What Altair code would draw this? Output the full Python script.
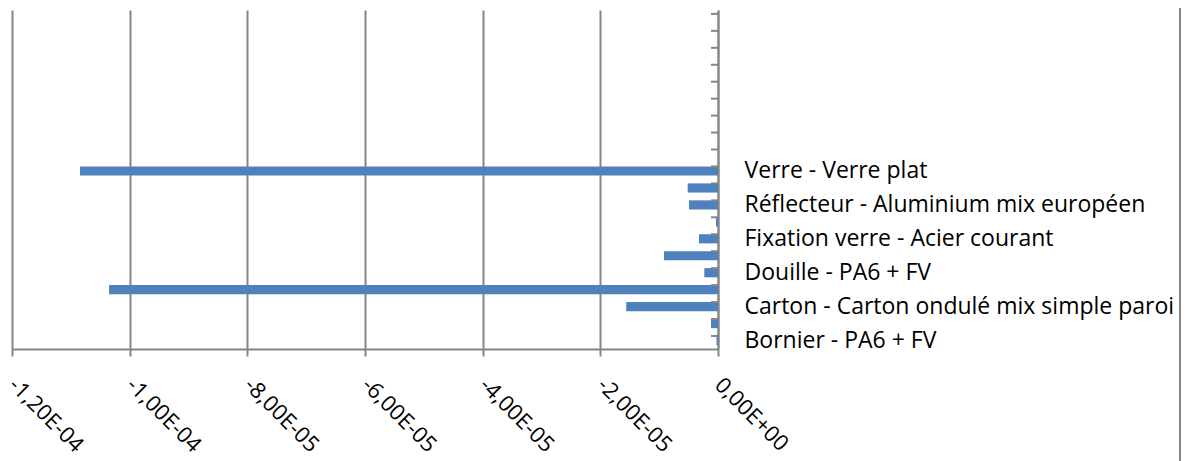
import json
import altair as alt
import pandas as pd

# Categories from bottom to top
categories = [
    "Bornier - PA6 + FV",
    "Câble - Cuivre",
    "Carton - Carton ondulé mix simple paroi",
    "Culot - Laiton",
    "Douille - PA6 + FV",
    "Fixation - Acier inoxydable",
    "Fixation verre - Acier courant",
    "Joint - Silicone",
    "Réflecteur - Aluminium mix européen",
    "Support - Acier courant",
    "Verre - Verre plat",
]
values = [-2.5e-7, -1.19e-6, -1.56e-5, -1.035e-4, -2.33e-6, -9.18e-6,
          -3.23e-6, -3.4e-7, -4.93e-6, -5.15e-6, -1.0844e-4]
empty_rows = ["_e%d" % i for i in range(1, 10)]
shown_labels = categories[0::2]

tick_values = [-1.2e-4, -1.0e-4, -8.0e-5, -6.0e-5, -4.0e-5, -2.0e-5, 0.0]
tick_labels = ["-1,20E-04", "-1,00E-04", "-8,00E-05", "-6,00E-05",
               "-4,00E-05", "-2,00E-05", "0,00E+00"]

all_rows = categories + empty_rows          # bottom to top
domain_top_down = list(reversed(all_rows))  # band scale order: top first

df = pd.DataFrame({"cat": all_rows,
                   "val": values + [None] * len(empty_rows)})

FONT = "Open Sans"
GRAY = "#868686"

y_scale = alt.Scale(domain=domain_top_down, paddingInner=0.46, paddingOuter=0.23)

x_label_expr = "%s[round(datum.value/2e-5)+6]" % json.dumps(tick_labels)
y_label_expr = "indexof(%s, datum.value) >= 0 ? datum.value : ''" % json.dumps(shown_labels)

bars = alt.Chart(df).mark_bar(color="#4F81BD").encode(
    x=alt.X("val:Q",
            scale=alt.Scale(domain=[-1.2e-4, 0], nice=False, zero=False),
            axis=alt.Axis(values=tick_values, labelExpr=x_label_expr,
                          title=None, grid=True, gridColor=GRAY, gridWidth=2,
                          domainColor=GRAY, domainWidth=2,
                          tickColor=GRAY, tickWidth=2, tickSize=7,
                          labelAngle=45, labelAlign="left", labelBaseline="middle",
                          labelPadding=25, labelFont=FONT, labelFontSize=22,
                          labelColor="#000000", labelOverlap=False, labelLimit=400)),
    y=alt.Y("cat:N", sort=None, scale=y_scale,
            axis=alt.Axis(orient="right", title=None, ticks=False,
                          domainColor=GRAY, domainWidth=2,
                          labelExpr=y_label_expr, labelPadding=26,
                          labelFont=FONT, labelFontSize=23, labelColor="#000000",
                          labelOverlap=False, labelAlign="left", labelLimit=600)),
)

yticks = alt.Chart(df).mark_rule(color=GRAY, strokeWidth=2, x2Offset=-7).encode(
    y=alt.Y("cat:N", sort=None, scale=y_scale, bandPosition=0),
    x=alt.datum(0),
    x2=alt.datum(0),
)

border = alt.Chart(df).mark_rule(color=GRAY, strokeWidth=2).encode(
    x=alt.value(1168), y=alt.value(-2), y2=alt.value(452)
)

chart = alt.layer(bars, yticks, border).properties(
    width=706, height=339,
    autosize=alt.AutoSizeParams(type="none"),
    padding={"left": 4, "top": 2, "right": 463, "bottom": 112},
).configure_view(stroke=None)

chart.save("out.html", embed_options={"renderer": "svg", "actions": False})
